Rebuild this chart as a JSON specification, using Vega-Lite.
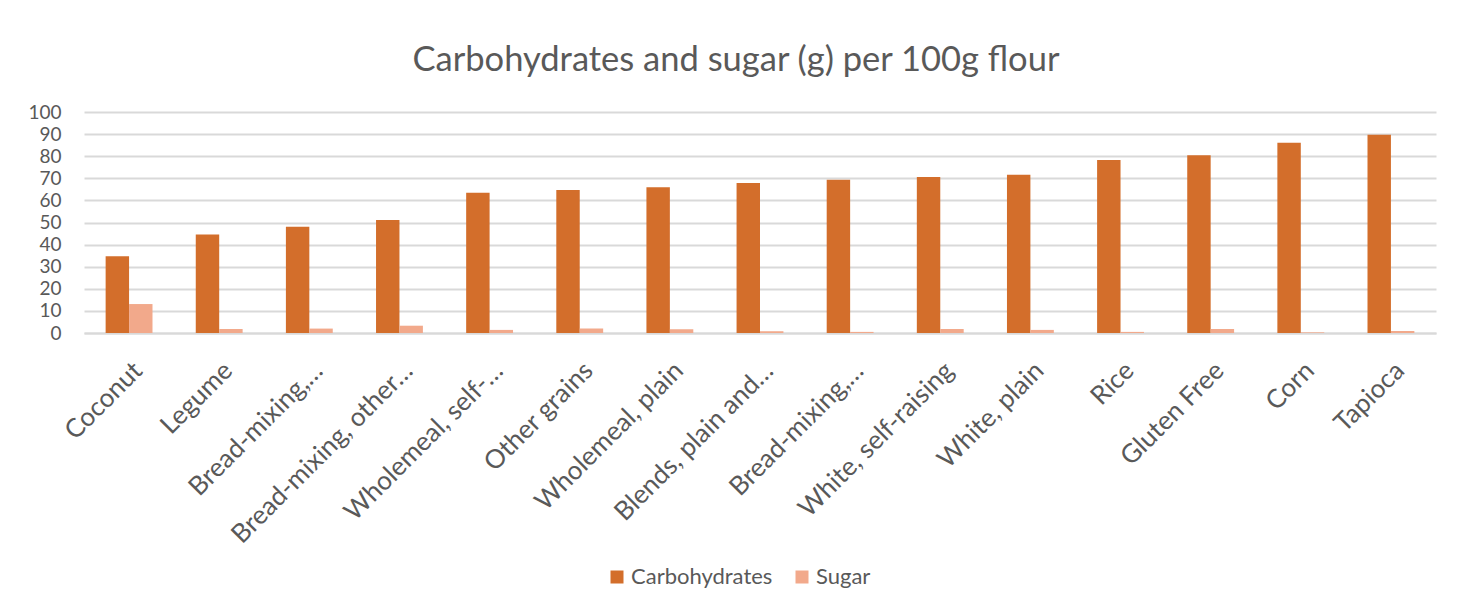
{
  "$schema": "https://vega.github.io/schema/vega-lite/v6.json",
  "autosize": "none",
  "width": 1352,
  "height": 221,
  "padding": {"left": 84, "top": 112, "right": 34, "bottom": 271},
  "background": "white",
  "title": {
    "text": "Carbohydrates and sugar (g) per 100g flour",
    "anchor": "middle",
    "frame": "group",
    "dx": -24,
    "offset": 25,
    "font": "Lato",
    "fontSize": 34.5,
    "fontWeight": "normal",
    "color": "#595959"
  },
  "data": {
    "values": [
      {"flour": "Coconut", "nutrient": "Carbohydrates", "grams": 34.7},
      {"flour": "Coconut", "nutrient": "Sugar", "grams": 13.1},
      {"flour": "Legume", "nutrient": "Carbohydrates", "grams": 44.6},
      {"flour": "Legume", "nutrient": "Sugar", "grams": 1.8},
      {"flour": "Bread-mixing, wholemeal", "nutrient": "Carbohydrates", "grams": 48.1},
      {"flour": "Bread-mixing, wholemeal", "nutrient": "Sugar", "grams": 2.0},
      {"flour": "Bread-mixing, other grains", "nutrient": "Carbohydrates", "grams": 51.1},
      {"flour": "Bread-mixing, other grains", "nutrient": "Sugar", "grams": 3.3},
      {"flour": "Wholemeal, self-raising", "nutrient": "Carbohydrates", "grams": 63.5},
      {"flour": "Wholemeal, self-raising", "nutrient": "Sugar", "grams": 1.4},
      {"flour": "Other grains", "nutrient": "Carbohydrates", "grams": 64.7},
      {"flour": "Other grains", "nutrient": "Sugar", "grams": 2.0},
      {"flour": "Wholemeal, plain", "nutrient": "Carbohydrates", "grams": 65.9},
      {"flour": "Wholemeal, plain", "nutrient": "Sugar", "grams": 1.7},
      {"flour": "Blends, plain and self-raising", "nutrient": "Carbohydrates", "grams": 67.9},
      {"flour": "Blends, plain and self-raising", "nutrient": "Sugar", "grams": 0.8},
      {"flour": "Bread-mixing, white", "nutrient": "Carbohydrates", "grams": 69.4},
      {"flour": "Bread-mixing, white", "nutrient": "Sugar", "grams": 0.5},
      {"flour": "White, self-raising", "nutrient": "Carbohydrates", "grams": 70.6},
      {"flour": "White, self-raising", "nutrient": "Sugar", "grams": 1.8},
      {"flour": "White, plain", "nutrient": "Carbohydrates", "grams": 71.6},
      {"flour": "White, plain", "nutrient": "Sugar", "grams": 1.4},
      {"flour": "Rice", "nutrient": "Carbohydrates", "grams": 78.3},
      {"flour": "Rice", "nutrient": "Sugar", "grams": 0.5},
      {"flour": "Gluten Free", "nutrient": "Carbohydrates", "grams": 80.4},
      {"flour": "Gluten Free", "nutrient": "Sugar", "grams": 1.8},
      {"flour": "Corn", "nutrient": "Carbohydrates", "grams": 86.1},
      {"flour": "Corn", "nutrient": "Sugar", "grams": 0.3},
      {"flour": "Tapioca", "nutrient": "Carbohydrates", "grams": 89.7},
      {"flour": "Tapioca", "nutrient": "Sugar", "grams": 0.9}
    ]
  },
  "mark": {"type": "bar"},
  "encoding": {
    "x": {
      "field": "flour",
      "type": "nominal",
      "sort": null,
      "scale": {"paddingInner": 0.48, "paddingOuter": 0.24},
      "axis": {
        "title": null,
        "labelAngle": -45,
        "labelFont": "Lato",
        "labelFontSize": 26,
        "labelColor": "#595959",
        "labelLimit": 0,
        "labelPadding": 24,
        "ticks": false,
        "domainColor": "#d9d9d9",
        "domainWidth": 2,
        "labelExpr": "datum.label == 'Bread-mixing, wholemeal' || datum.label == 'Bread-mixing, white' ? 'Bread-mixing,…' : datum.label == 'Bread-mixing, other grains' ? 'Bread-mixing, other…' : datum.label == 'Wholemeal, self-raising' ? 'Wholemeal, self-…' : datum.label == 'Blends, plain and self-raising' ? 'Blends, plain and…' : datum.label"
      }
    },
    "xOffset": {
      "field": "nutrient",
      "type": "nominal",
      "scale": {"paddingInner": 0, "paddingOuter": 0}
    },
    "y": {
      "field": "grams",
      "type": "quantitative",
      "scale": {"domain": [0, 100]},
      "axis": {
        "title": null,
        "values": [0, 10, 20, 30, 40, 50, 60, 70, 80, 90, 100],
        "labelFont": "Lato",
        "labelFontSize": 19,
        "labelColor": "#595959",
        "labelPadding": 23,
        "ticks": false,
        "domain": false,
        "gridColor": "#d9d9d9",
        "gridWidth": 2
      }
    },
    "color": {
      "field": "nutrient",
      "type": "nominal",
      "scale": {"domain": ["Carbohydrates", "Sugar"], "range": ["#D36E2B", "#F2A98B"]},
      "legend": {
        "title": null,
        "orient": "none",
        "direction": "horizontal",
        "legendX": 522,
        "legendY": 454,
        "symbolType": "square",
        "symbolSize": 169,
        "symbolStrokeWidth": 0,
        "labelFont": "Lato",
        "labelFontSize": 22,
        "labelColor": "#595959",
        "labelOffset": 3,
        "columnPadding": 18
      }
    }
  },
  "config": {
    "view": {"stroke": null}
  }
}
